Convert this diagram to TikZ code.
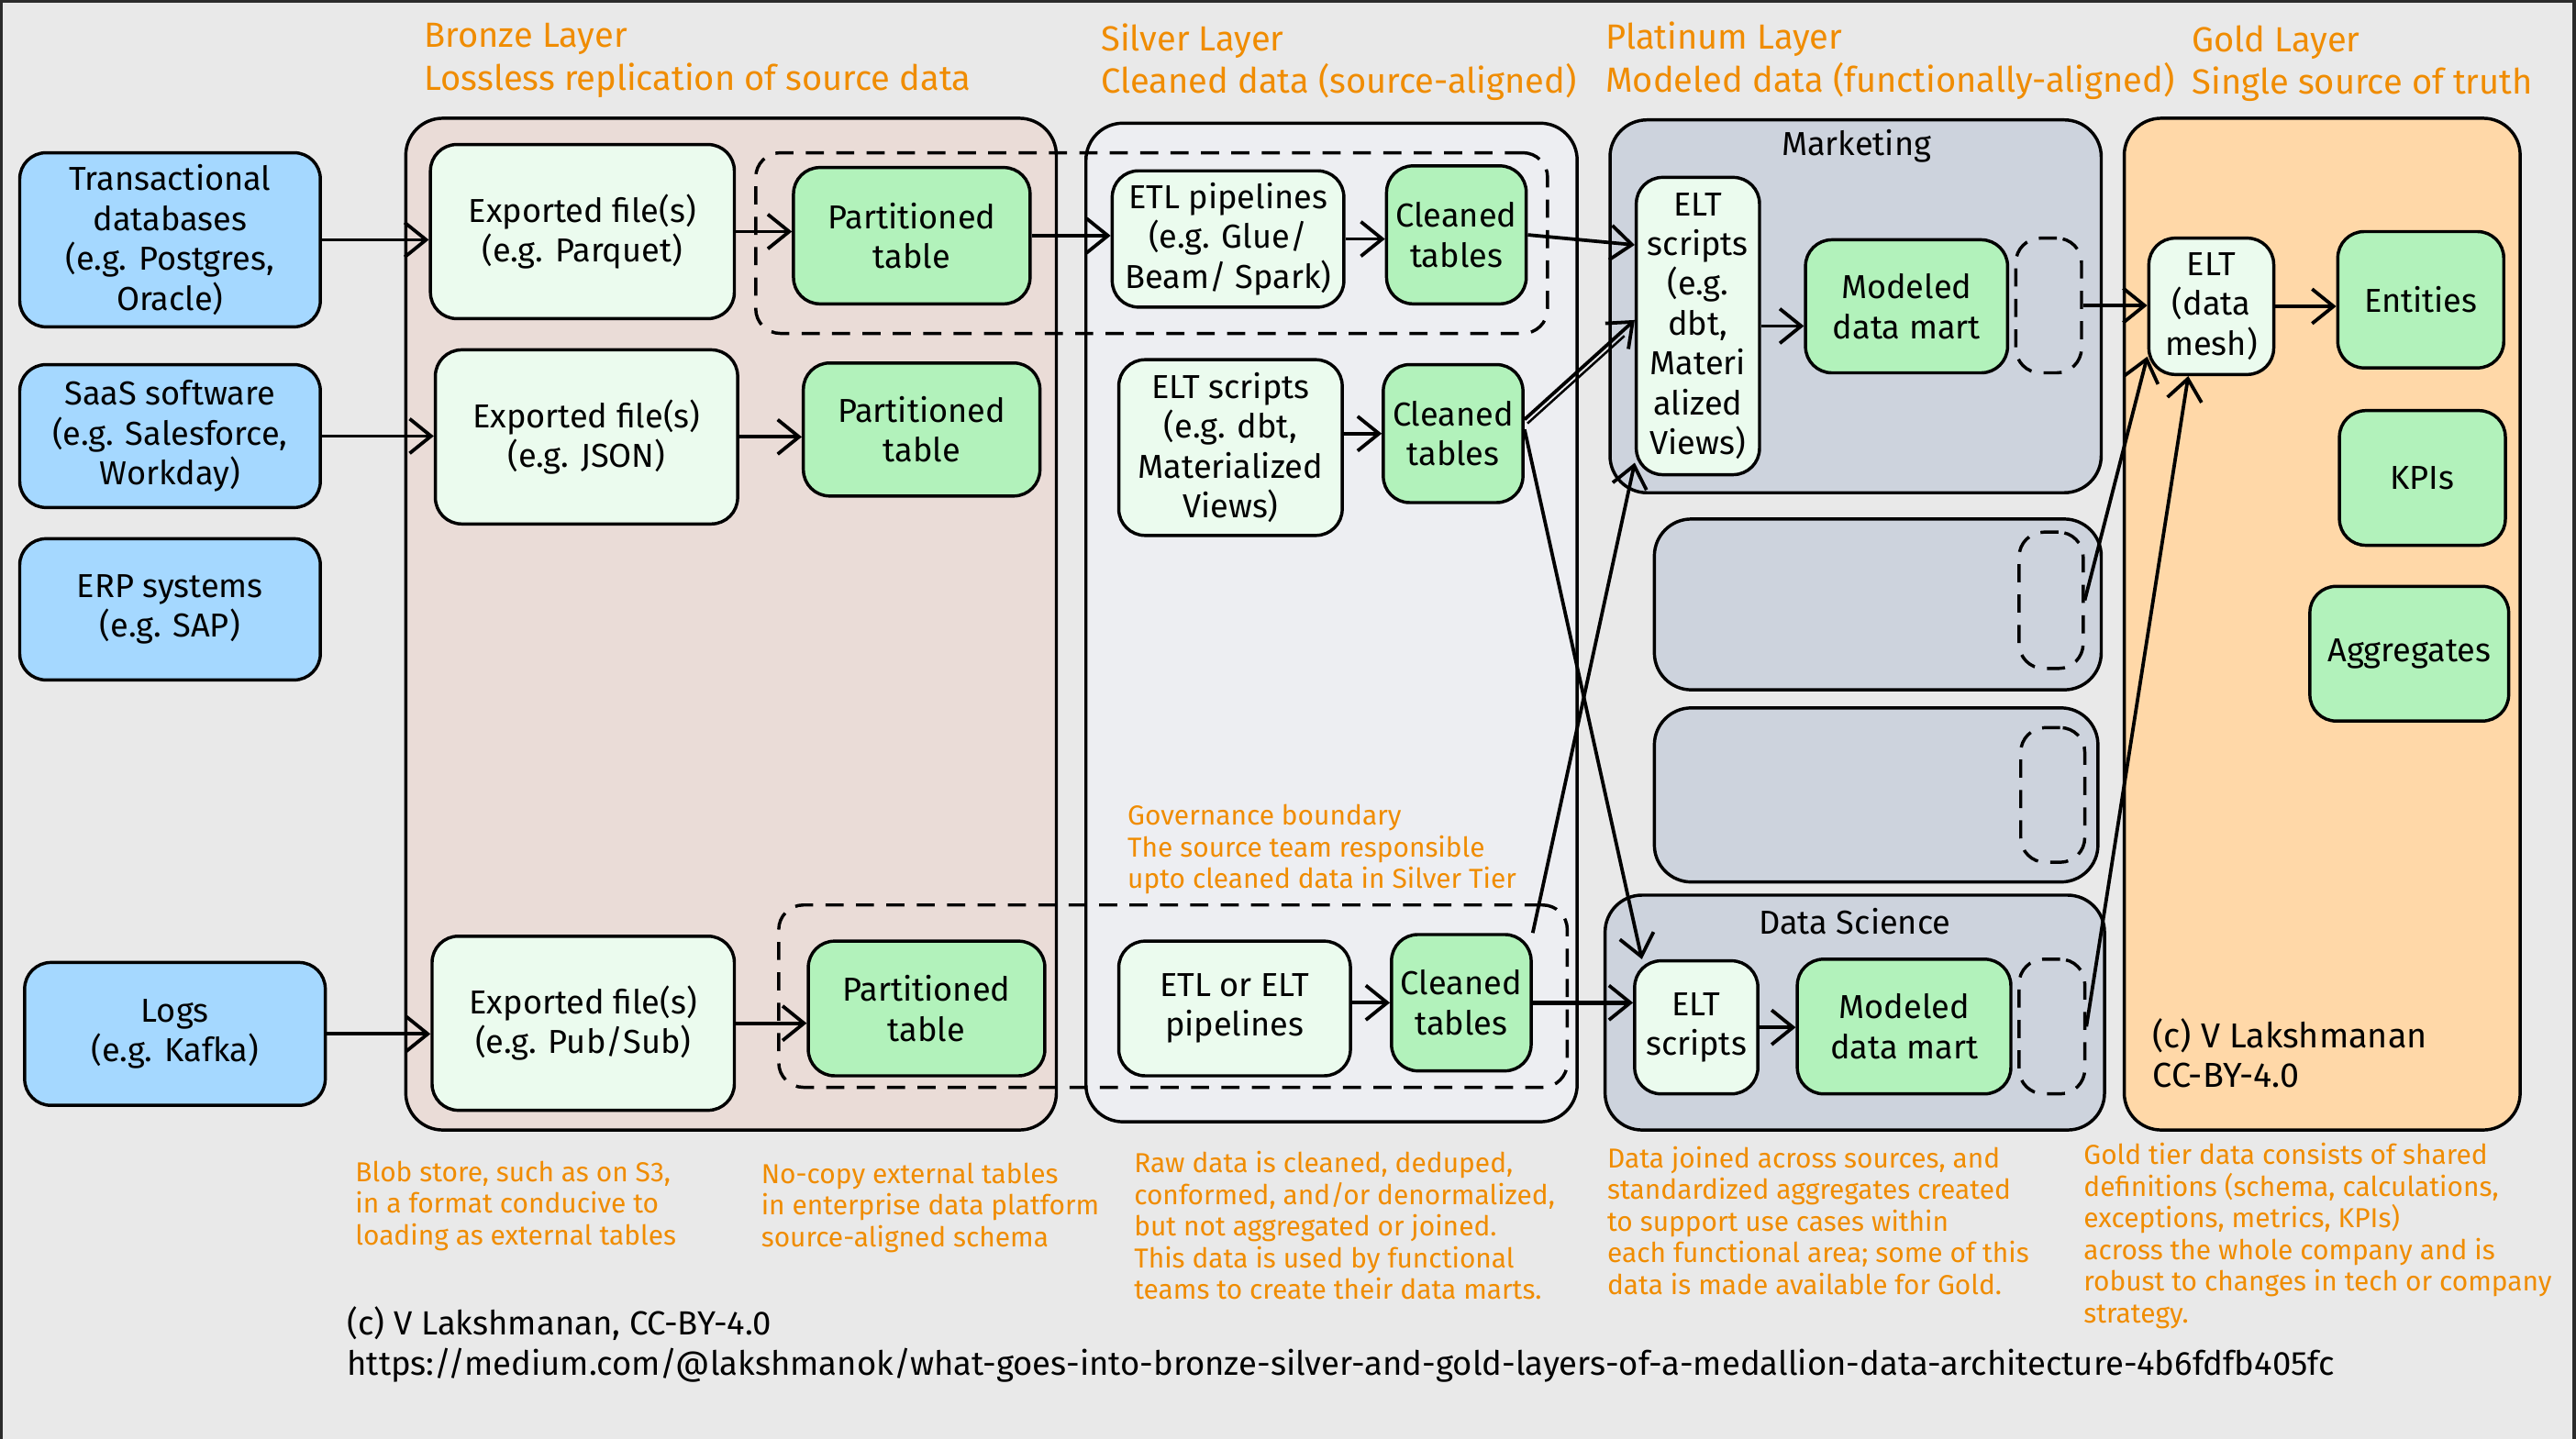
\documentclass[tikz,border=0pt]{standalone}
\usepackage{fontspec}
\setmainfont{Fira Sans}
\usetikzlibrary{arrows.meta,fit,calc}
\definecolor{bgc}{HTML}{E9E9E9}
\definecolor{framec}{HTML}{2B2B2B}
\definecolor{srcblue}{HTML}{A5D8FF}
\definecolor{procl}{HTML}{EBFBEE}
\definecolor{tblg}{HTML}{B2F2BB}
\definecolor{bronzef}{HTML}{EADCD7}
\definecolor{silverf}{HTML}{EDEEF2}
\definecolor{platf}{HTML}{CDD3DD}
\definecolor{goldf}{HTML}{FFD8A8}
\definecolor{orangeT}{HTML}{F08C00}
\newcommand\mdNode{\fontsize{11.5}{13.8}\selectfont}
\newcommand\mdTitle{\fontsize{12.1}{14.8}\selectfont}
\newcommand\mdNote{\fontsize{9.5}{11}\selectfont}
\newcommand\mdFoot{\fontsize{11.6}{14.2}\selectfont}
\begin{document}
\begin{tikzpicture}[x=0.2mm,y=-0.2mm,
  bx/.style n args={4}{minimum width={(#3-#1)*0.2mm}, minimum height={(#4-#2)*0.2mm}, at={({(#1+#3)/2},{(#2+#4)/2})}},
  box/.style={draw=black, line width=1.1pt, rounded corners=3.2mm, inner sep=0pt, align=center, font=\mdNode},
  src/.style={box, fill=srcblue},
  proc/.style={box, fill=procl},
  tbl/.style={box, fill=tblg},
  cont/.style={draw=black, line width=1.1pt, rounded corners=4.5mm, inner sep=0pt},
  dbox/.style={draw=black, line width=1.1pt, dash pattern=on 2.2mm off 1.5mm, rounded corners=3mm, inner sep=0pt},
  arr/.style={line width=1.2pt, -{Straight Barb[length=2.6mm,width=4.2mm,line width=1.2pt]}},
  title/.style={anchor=north west, inner sep=0pt, align=left, text=orangeT, font=\mdTitle},
  note/.style={anchor=north west, inner sep=0pt, align=left, text=orangeT, font=\mdNote},
]
% background and frame
\fill[bgc] (0,0) rectangle (1568,876);
\useasboundingbox (0,0) rectangle (1568,876);
\fill[framec] (0,0) rectangle (1568,1.5);
\fill[framec] (0,0) rectangle (1.5,876);
\fill[framec] (1565.5,0) rectangle (1568,876);

% layer titles
\node[title] (tb) at (258,14) {Bronze Layer\\Lossless replication of source data};
\node[title] (ts) at (670,14) {Silver Layer\\Cleaned data (source-aligned)};
\node[title] (tp) at (977,13) {Platinum Layer\\Modeled data (functionally-aligned)};
\node[title] (tg) at (1334,15) {Gold Layer\\Single source of truth};

% containers
\node[cont, fill=bronzef, fit={(247,72)(643,688)}] (bronze) {};
\node[cont, fill=silverf, fit={(661,75)(960,683)}] (silver) {};
\node[cont, fill=platf, fit={(980,73)(1279,300)}] (mkt) {};
\node[cont, fill=platf, fit={(1007,316)(1279,420)}] (plat2) {};
\node[cont, fill=platf, fit={(1007,431)(1277,537)}] (plat3) {};
\node[cont, fill=platf, fit={(977,545)(1281,688)}] (dsc) {};
\node[cont, fill=goldf, fit={(1293,72)(1534,688)}] (gold) {};

% governance dashed boxes
\node[dbox, fit={(460,93)(942,203)}] (gov1) {};
\node[dbox, fit={(474,551)(954,662)}] (gov2) {};

% sources
\node[src, bx={12}{93}{195}{199}] (tx) {Transactional\\databases\\(e.g. Postgres,\\Oracle)};
\node[src, bx={12}{222}{195}{309}] (saas) {SaaS software\\(e.g. Salesforce,\\Workday)};
\node[src, bx={12}{328}{195}{414}] (erp) {ERP systems\\(e.g. SAP)};
\node[src, bx={15}{586}{198}{673}] (logs) {Logs\\(e.g. Kafka)};

% bronze
\node[proc, bx={262}{88}{447}{194}] (exp1) {Exported file(s)\\(e.g. Parquet)};
\node[proc, bx={265}{213}{449}{319}] (exp2) {Exported file(s)\\(e.g. JSON)};
\node[proc, bx={263}{570}{447}{676}] (exp3) {Exported file(s)\\(e.g. Pub/Sub)};
\node[tbl, bx={483}{102}{627}{185}] (part1) {Partitioned\\table};
\node[tbl, bx={489}{221}{633}{302}] (part2) {Partitioned\\table};
\node[tbl, bx={492}{573}{636}{655}] (part3) {Partitioned\\table};

% silver
\node[proc, bx={677}{104}{818}{187}] (etl1) {ETL pipelines\\(e.g. Glue/\\Beam/ Spark)};
\node[tbl, bx={844}{101}{929}{185}] (cln1) {Cleaned\\tables};
\node[proc, bx={681}{219}{817}{326}] (elt2) {ELT scripts\\(e.g. dbt,\\Materialized\\Views)};
\node[tbl, bx={842}{222}{927}{306}] (cln2) {Cleaned\\tables};
\node[proc, bx={681}{573}{822}{655}] (etl3) {ETL or ELT\\pipelines};
\node[tbl, bx={847}{569}{932}{652}] (cln3) {Cleaned\\tables};
\node[note] (govt) at (686,489.5) {Governance boundary\\The source team responsible\\upto cleaned data in Silver Tier};

% platinum
\node[font=\mdNode, inner sep=0pt] (mktl) at (1130,89) {Marketing};
\node[proc, bx={996}{108}{1071}{289}] (mkelt) {ELT\\scripts\\(e.g.\\dbt,\\Materi\\alized\\Views)};
\node[tbl, bx={1099}{146}{1222}{227}] (mkmart) {Modeled\\data mart};
\node[dbox, fit={(1227,145)(1267,227)}] (mkdash) {};
\node[dbox, fit={(1229,324)(1268,407)}] (p2dash) {};
\node[dbox, fit={(1230,443)(1269,525)}] (p3dash) {};
\node[font=\mdNode, inner sep=0pt] (dsl) at (1129,561) {Data Science};
\node[proc, bx={995}{585}{1070}{666}] (dselt) {ELT\\scripts};
\node[tbl, bx={1094}{584}{1224}{666}] (dsmart) {Modeled\\data mart};
\node[dbox, fit={(1229,584)(1269,666)}] (dsdash) {};

% gold
\node[proc, bx={1308}{145}{1384}{228}] (mesh) {ELT\\(data\\mesh)};
\node[tbl, bx={1423}{141}{1524}{224}] (ent) {Entities};
\node[tbl, bx={1424}{250}{1525}{332}] (kpi) {KPIs};
\node[tbl, bx={1406}{357}{1527}{439}] (agg) {Aggregates};
\node[anchor=north west, inner sep=0pt, align=left, font=\fontsize{12}{13.6}\selectfont] (cpg) at (1310,620) {(c) V Lakshmanan\\CC-BY-4.0};

% arrows
\draw[arr] (tx.east) -- (tx.east -| exp1.west);
\draw[arr] (saas.east) -- (saas.east -| exp2.west);
\draw[arr] (logs.east) -- (logs.east -| exp3.west);
\draw[arr] (exp1.east) -- (exp1.east -| part1.west);
\draw[arr] (exp2.east) -- (exp2.east -| part2.west);
\draw[arr] (exp3.east) -- (exp3.east -| part3.west);
\draw[arr] (part1.east) -- (part1.east -| etl1.west);
\draw[arr] (etl1.east) -- (etl1.east -| cln1.west);
\draw[arr] (cln2.west -| elt2.east) -- (cln2.west);
\draw[arr] (cln3.west -| etl3.east) -- (cln3.west);
\draw[arr] (cln1.east) -- ($(mkelt.north west)!0.23!(mkelt.south west)$);
\coordinate (c2a) at ($(cln2.north east)!0.4!(cln2.south east)$);
\coordinate (c2b) at ($(mkelt.north west)!0.48!(mkelt.south west)$);
\draw[arr] (c2a) -- (c2b);
\draw[line width=0.8pt] ($(c2a)+(1.8,2.4)$) -- ($(c2a)!0.88!(c2b)+(1.8,2.4)$);
\draw[arr] ($(cln2.north east)!0.47!(cln2.south east)$) -- ($(dselt.north west)!0.07!(dselt.north east)$);
\draw[arr] (cln3.north east) -- ($(mkelt.north west)!0.955!(mkelt.south west)$);
\draw[arr, line width=1.5pt] (cln3.east) -- (cln3.east -| dselt.west);
\draw[arr] (mkelt.east) -- (mkelt.east -| mkmart.west);
\draw[arr] (dselt.east) -- (dselt.east -| dsmart.west);
\draw[arr] (mkdash.east) -- (mkdash.east -| mesh.west);
\draw[arr] (mesh.east) -- (mesh.east -| ent.west);
\draw[arr] (p2dash.east) -- ($(mesh.north west)!0.86!(mesh.south west)$);
\draw[arr] (dsdash.east) -- ($(mesh.south west)!0.32!(mesh.south east)$);

% notes
\node[note] (n1) at (216,706.5) {Blob store, such as on S3,\\in a format conducive to\\loading as external tables};
\node[note] (n2) at (463,707.5) {No-copy external tables\\in enterprise data platform\\source-aligned schema};
\node[note] (n3) at (690,700.5) {Raw data is cleaned, deduped,\\conformed, and/or denormalized,\\but not aggregated or joined.\\This data is used by functional\\teams to create their data marts.};
\node[note] (n4) at (978,697.5) {Data joined across sources, and\\standardized aggregates created\\to support use cases within\\each functional area; some of this\\data is made available for Gold.};
\node[note] (n5) at (1268,695.5) {Gold tier data consists of shared\\definitions (schema, calculations,\\exceptions, metrics, KPIs)\\across the whole company and is\\robust to changes in tech or company\\strategy.};

% footer
\node[anchor=north west, inner sep=0pt, align=left, font=\mdFoot] (foot) at (211,795) {(c) V Lakshmanan, CC-BY-4.0\\https://medium.com/@lakshmanok/what-goes-into-bronze-silver-and-gold-layers-of-a-medallion-data-architecture-4b6fdfb405fc};
\end{tikzpicture}
\end{document}
